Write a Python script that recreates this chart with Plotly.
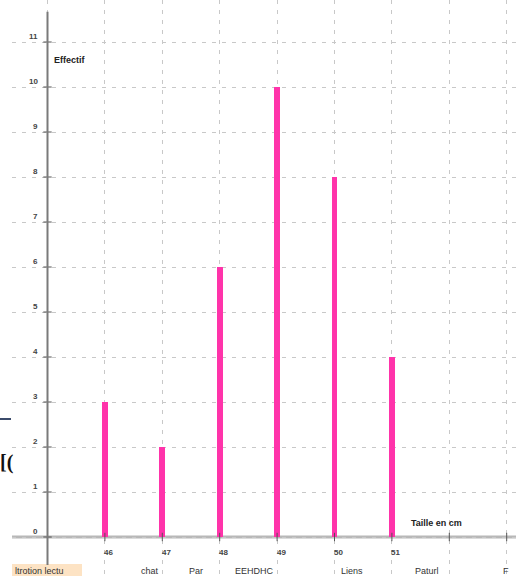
import plotly.graph_objects as go

# Data
tailles = [46, 47, 48, 49, 50, 51]
effectifs = [3, 2, 6, 10, 8, 4]
y_ticks = list(range(0, 12))
x_ticks = [46, 47, 48, 49, 50, 51]
grid_x = list(range(45, 54))

PINK = "#ff33aa"

fig = go.Figure()

fig.add_trace(go.Bar(
    x=tailles, y=effectifs, width=0.1,
    marker=dict(color=PINK, line=dict(width=0)),
    hoverinfo="x+y", showlegend=False,
))

# small tick marks on axes
fig.add_trace(go.Scatter(
    x=grid_x[1:], y=[0] * (len(grid_x) - 1), mode="markers",
    marker=dict(symbol="line-ns", size=6, line=dict(color="#555", width=1)),
    hoverinfo="skip", showlegend=False,
))
fig.add_trace(go.Scatter(
    x=[45] * len(y_ticks), y=y_ticks, mode="markers",
    marker=dict(symbol="line-ew", size=6, line=dict(color="#555", width=1)),
    hoverinfo="skip", showlegend=False,
))

# axes lines
fig.add_shape(type="line", xref="paper", yref="y", x0=0, x1=1, y0=0, y1=0,
              line=dict(color="#b8b8b8", width=3), layer="below")
fig.add_shape(type="line", xref="x", yref="y", x0=45, x1=45, y0=-0.62, y1=11.67,
              line=dict(color="#7a7a7a", width=2), layer="above")

annotations = []
for v in y_ticks:
    annotations.append(dict(x=45, y=v, xref="x", yref="y", text=f"<b>{v}</b>",
                            showarrow=False, xanchor="right", yanchor="middle",
                            xshift=-8, yshift=6,
                            font=dict(family="Liberation Sans, Arial", size=8, color="#444")))
for v in x_ticks:
    annotations.append(dict(x=v, y=0, xref="x", yref="y", text=f"<b>{v}</b>",
                            showarrow=False, xanchor="center", yanchor="middle",
                            xshift=4, yshift=-15,
                            font=dict(family="Liberation Sans, Arial", size=8, color="#444")))
annotations.append(dict(x=45, y=10.6, xref="x", yref="y", text="<b>Effectif</b>",
                        showarrow=False, xanchor="left", yanchor="middle", xshift=4,
                        font=dict(family="Liberation Sans, Arial", size=9, color="#222")))
annotations.append(dict(x=51.3, y=0.31, xref="x", yref="y", text="<b>Taille en cm</b>",
                        showarrow=False, xanchor="left", yanchor="middle",
                        font=dict(family="Liberation Sans, Arial", size=9, color="#222")))

# page artifacts around the screenshot
fig.add_shape(type="line", xref="paper", yref="paper",
              x0=-12 / 504, x1=-1 / 504, y0=1 - 419 / 576, y1=1 - 419 / 576,
              line=dict(color="#3b4b6b", width=2))
annotations.append(dict(x=-14 / 504, y=1 - 462 / 576, xref="paper", yref="paper",
                        text="<b>[(</b>", showarrow=False, xanchor="left", yanchor="middle",
                        font=dict(family="Liberation Serif, Times New Roman", size=20, color="#111")))
fig.add_shape(type="rect", xref="paper", yref="paper",
              x0=0, x1=70 / 504, y0=0, y1=12 / 576,
              fillcolor="#fde3c4", line=dict(width=0), layer="below")
bottom_words = [("ltrotion lectu", 2), ("chat", 128), ("Par", 176), ("EEHDHC", 222),
                ("Liens", 328), ("Paturl", 402), ("F", 490)]
for w, px in bottom_words:
    annotations.append(dict(x=px / 504, y=0, xref="paper", yref="paper",
                            text=w, showarrow=False, xanchor="left", yanchor="bottom",
                            yshift=-1, borderpad=0,
                            font=dict(family="Liberation Sans, Arial", size=9, color="#333")))

fig.update_layout(
    width=516, height=576,
    margin=dict(l=12, r=0, t=0, b=0),
    paper_bgcolor="white", plot_bgcolor="white",
    annotations=annotations,
    bargap=0,
    xaxis=dict(range=[44.3815, 53.162], tickvals=grid_x, showticklabels=False,
               showgrid=True, gridcolor="#c8c8c8", gridwidth=1, griddash="4px,6px",
               zeroline=False, showline=False, ticks="", fixedrange=True),
    yaxis=dict(range=[-0.8667, 11.9333], tickvals=y_ticks, showticklabels=False,
               showgrid=True, gridcolor="#c8c8c8", gridwidth=1, griddash="4px,6px",
               zeroline=False, showline=False, ticks="", fixedrange=True),
)

fig.write_html("out.html", config={"displayModeBar": False},
               post_script="document.body.style.margin='0';document.body.style.overflow='hidden';")
